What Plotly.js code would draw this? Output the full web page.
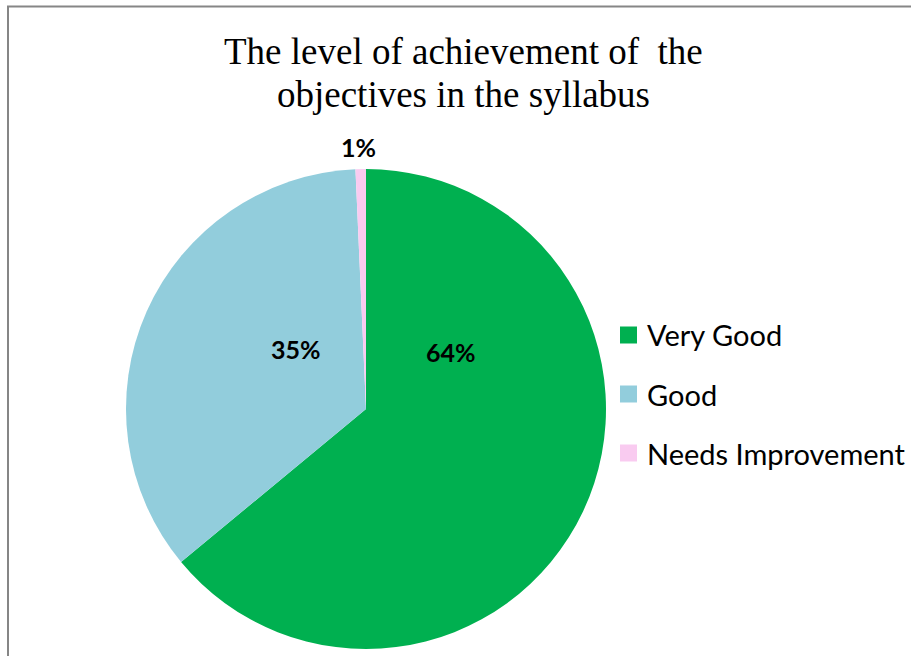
<!DOCTYPE html>
<html>
<head>
<meta charset="utf-8">
<script src="https://cdn.plot.ly/plotly-3.0.1.min.js"></script>
<style>html,body{margin:0;padding:0;background:#fff;}#chart{width:911px;height:656px;}</style>
</head>
<body>
<div id="chart"></div>
<script>
const categories = ["Very Good", "Good", "Needs Improvement"];
const values = [64.0, 35.3, 0.7];
const colors = ["#00B050", "#92CDDC", "#F9CBF0"];
const titleLines = ["The level of achievement of&nbsp; the", "objectives in the syllabus"];

const W = 911, H = 656;
const px = x => x / W;
const py = y => 1 - y / H;

const total = values.reduce((a, b) => a + b, 0);
const pctText = values.map(v => Math.round(v / total * 100) + "%");

// label positions (pixel) for the percentage labels
const labelPos = [[451, 352], [296, 349], [358, 147]];
const labelFont = {family: "Lato, 'Open Sans', sans-serif", size: 25, color: "#000"};

const annotations = pctText.map((t, i) => ({
  text: "<b>" + t + "</b>", xref: "paper", yref: "paper",
  x: px(labelPos[i][0]), y: py(labelPos[i][1]),
  xanchor: "center", yanchor: "middle", showarrow: false, font: labelFont
}));

// title lines
const titleY = [52, 95];
titleLines.forEach((t, i) => {
  annotations.push({
    text: t, xref: "paper", yref: "paper", x: px(463), y: py(titleY[i]),
    xanchor: "center", yanchor: "middle", showarrow: false,
    font: {family: "'Liberation Serif', 'Times New Roman', serif", size: 37, color: "#000"}
  });
});

// legend built from categories & colors
const legX = 620, legY0 = 335, legStep = 59, sq = 17;
const shapes = [{
  type: "rect", xref: "paper", yref: "paper",
  x0: px(8), x1: 1.2, y0: -0.2, y1: py(6.5),
  line: {color: "#868686", width: 2}, fillcolor: "rgba(0,0,0,0)"
}];
categories.forEach((c, i) => {
  const cy = legY0 + i * legStep;
  shapes.push({
    type: "rect", xref: "paper", yref: "paper",
    x0: px(legX), x1: px(legX + sq), y0: py(cy + sq / 2), y1: py(cy - sq / 2),
    line: {width: 0}, fillcolor: colors[i]
  });
  annotations.push({
    text: c, xref: "paper", yref: "paper", x: px(645), y: py(cy),
    xanchor: "left", yanchor: "middle", showarrow: false,
    font: {family: "Lato, 'Open Sans', sans-serif", size: 29, color: "#000"}
  });
});

const trace = {
  type: "pie",
  labels: categories,
  values: values,
  marker: {colors: colors, line: {width: 0}},
  sort: false,
  direction: "clockwise",
  rotation: 0,
  textinfo: "none",
  hoverinfo: "label+percent",
  showlegend: false,
  domain: {x: [px(126), px(606)], y: [py(649), py(169)]}
};

const layout = {
  width: W, height: H,
  margin: {l: 0, r: 0, t: 0, b: 0},
  paper_bgcolor: "#fff",
  showlegend: false,
  annotations: annotations,
  shapes: shapes
};

Plotly.newPlot("chart", [trace], layout, {displayModeBar: false, staticPlot: true});
</script>
</body>
</html>
